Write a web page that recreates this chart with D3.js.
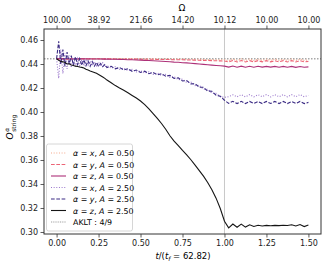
<!DOCTYPE html>
<html>
<head>
<meta charset="utf-8">
<script src="https://cdn.jsdelivr.net/npm/d3@7"></script>
<style>
  body { margin: 0; background: #fff; }
  text { font-family: "DejaVu Sans", sans-serif; }
</style>
</head>
<body>
<div class="grafico"></div>
<script>
// tempo normalizado t/t_f
var tempos = [0, 0.0125, 0.025, 0.0375, 0.05, 0.0625, 0.075, 0.0875, 0.1, 0.1125, 0.125, 0.1375,
  0.15, 0.1625, 0.175, 0.1875, 0.2, 0.2125, 0.225, 0.2375, 0.25, 0.2625, 0.275, 0.2875,
  0.3, 0.325, 0.35, 0.375, 0.4, 0.425, 0.45, 0.475, 0.5, 0.525, 0.55, 0.575, 0.6, 0.625,
  0.65, 0.675, 0.7, 0.725, 0.75, 0.775, 0.8, 0.825, 0.85, 0.875, 0.9, 0.925, 0.95, 0.975,
  1.0, 1.025, 1.05, 1.075, 1.1, 1.125, 1.15, 1.175, 1.2, 1.225, 1.25, 1.275, 1.3, 1.325,
  1.35, 1.375, 1.4, 1.425, 1.45, 1.475, 1.5];

var xA05 = [0.4444, 0.4452, 0.4438, 0.4450, 0.4440, 0.4448, 0.4441, 0.4447, 0.4442, 0.4446, 0.4443, 0.4446,
  0.4443, 0.4445, 0.4443, 0.4445, 0.4444, 0.4445, 0.4443, 0.4445, 0.4444, 0.4445, 0.4444, 0.4445,
  0.4444, 0.4445, 0.4444, 0.4445, 0.4444, 0.4444, 0.4445, 0.4444, 0.4444, 0.4443, 0.4444, 0.4443,
  0.4443, 0.4442, 0.4443, 0.4442, 0.4442, 0.4441, 0.4441, 0.4440, 0.4440, 0.4439, 0.4439, 0.4438,
  0.4437, 0.4437, 0.4436, 0.4436,
  0.4435, 0.4428, 0.4443, 0.4428, 0.4443, 0.4429, 0.4443, 0.4429, 0.4442, 0.4429, 0.4442, 0.4430,
  0.4442, 0.4430, 0.4441, 0.4429, 0.4442, 0.4429, 0.4442, 0.4430, 0.4436];

var yA05 = [0.4444, 0.4438, 0.4452, 0.4440, 0.4449, 0.4441, 0.4447, 0.4442, 0.4446, 0.4443, 0.4445, 0.4443,
  0.4445, 0.4443, 0.4444, 0.4443, 0.4444, 0.4443, 0.4444, 0.4443, 0.4444, 0.4443, 0.4444, 0.4443,
  0.4443, 0.4443, 0.4442, 0.4442, 0.4442, 0.4441, 0.4441, 0.4441, 0.4440, 0.4440, 0.4439, 0.4439,
  0.4438, 0.4438, 0.4437, 0.4437, 0.4436, 0.4435, 0.4435, 0.4434, 0.4433, 0.4432, 0.4431, 0.4430,
  0.4429, 0.4428, 0.4427, 0.4426,
  0.4425, 0.4418, 0.4429, 0.4417, 0.4429, 0.4417, 0.4428, 0.4418, 0.4428, 0.4418, 0.4428, 0.4418,
  0.4427, 0.4418, 0.4428, 0.4417, 0.4428, 0.4417, 0.4428, 0.4418, 0.4422];

var zA05 = [0.4444, 0.4446, 0.4442, 0.4445, 0.4443, 0.4444, 0.4443, 0.4444, 0.4443, 0.4444, 0.4443, 0.4443,
  0.4443, 0.4443, 0.4443, 0.4442, 0.4443, 0.4442, 0.4442, 0.4442, 0.4442, 0.4442, 0.4441, 0.4441,
  0.4441, 0.4440, 0.4439, 0.4438, 0.4437, 0.4436, 0.4435, 0.4433, 0.4432, 0.4430, 0.4429, 0.4427,
  0.4425, 0.4423, 0.4421, 0.4419, 0.4416, 0.4414, 0.4411, 0.4409, 0.4406, 0.4403, 0.4400, 0.4397,
  0.4394, 0.4391, 0.4388, 0.4385,
  0.4382, 0.4374, 0.4383, 0.4373, 0.4382, 0.4373, 0.4381, 0.4373, 0.4381, 0.4374, 0.4380, 0.4374,
  0.4380, 0.4373, 0.4380, 0.4373, 0.4380, 0.4372, 0.4379, 0.4373, 0.4376];

var xA25 = [0.4444, 0.4280, 0.4520, 0.4320, 0.4490, 0.4360, 0.4470, 0.4370, 0.4455, 0.4380, 0.4445, 0.4385,
  0.4435, 0.4385, 0.4430, 0.4390, 0.4425, 0.4385, 0.4420, 0.4385, 0.4415, 0.4380, 0.4410, 0.4378,
  0.4386, 0.4365, 0.4376, 0.4355, 0.4366, 0.4345, 0.4355, 0.4334, 0.4345, 0.4324, 0.4335, 0.4314,
  0.4325, 0.4304, 0.4314, 0.4289, 0.4295, 0.4269, 0.4274, 0.4246, 0.4250, 0.4220, 0.4222, 0.4190,
  0.4190, 0.4157, 0.4156, 0.4128,
  0.4122, 0.4128, 0.4143, 0.4126, 0.4144, 0.4126, 0.4145, 0.4127, 0.4144, 0.4127, 0.4145, 0.4126,
  0.4144, 0.4127, 0.4145, 0.4126, 0.4144, 0.4127, 0.4145, 0.4127, 0.4138];

var yA25 = [0.4444, 0.4590, 0.4400, 0.4520, 0.4380, 0.4500, 0.4400, 0.4470, 0.4390, 0.4460, 0.4395, 0.4445,
  0.4390, 0.4435, 0.4385, 0.4425, 0.4380, 0.4420, 0.4382, 0.4412, 0.4380, 0.4405, 0.4378, 0.4395,
  0.4370, 0.4381, 0.4360, 0.4371, 0.4350, 0.4361, 0.4339, 0.4350, 0.4329, 0.4340, 0.4319, 0.4330,
  0.4309, 0.4320, 0.4298, 0.4305, 0.4279, 0.4285, 0.4258, 0.4262, 0.4234, 0.4236, 0.4206, 0.4206,
  0.4174, 0.4173, 0.4140, 0.4132,
  0.4098, 0.4072, 0.4089, 0.4070, 0.4089, 0.4070, 0.4088, 0.4071, 0.4088, 0.4070, 0.4088, 0.4071,
  0.4088, 0.4070, 0.4088, 0.4070, 0.4087, 0.4071, 0.4088, 0.4070, 0.4080];

var zA25 = [0.4444, 0.4432, 0.4422, 0.4418, 0.4412, 0.4400, 0.4402, 0.4392, 0.4388, 0.4382, 0.4379, 0.4375,
  0.4372, 0.4366, 0.4356, 0.4350, 0.4342, 0.4336, 0.4330, 0.4322, 0.4312, 0.4302, 0.4292, 0.4280,
  0.4266, 0.4244, 0.4220, 0.4200, 0.4182, 0.4160, 0.4138, 0.4116, 0.4092, 0.4062, 0.4026, 0.3987,
  0.3946, 0.3904, 0.3856, 0.3802, 0.3757, 0.3720, 0.3680, 0.3642, 0.3602, 0.3558, 0.3512, 0.3466,
  0.3412, 0.3352, 0.3282, 0.3196,
  0.3090, 0.3035, 0.3066, 0.3040, 0.3066, 0.3041, 0.3060, 0.3046, 0.3056, 0.3050, 0.3055, 0.3052,
  0.3055, 0.3053, 0.3056, 0.3054, 0.3060, 0.3050, 0.3062, 0.3045, 0.3058];

var aklt = 4 / 9;

// eixos
var xTicks = [0, 0.25, 0.5, 0.75, 1.0, 1.25, 1.5];
var yTicks = [0.30, 0.32, 0.34, 0.36, 0.38, 0.40, 0.42, 0.44, 0.46];
var omegaLabels = ["100.00", "38.92", "21.66", "14.20", "10.12", "10.00", "10.00"];

var series = [
  { alpha: "x", A: "0.50", valores: xA05, cor: "#f5a98c", dash: "1,1.65" },
  { alpha: "y", A: "0.50", valores: yA05, cor: "#ec6476", dash: "3.7,1.6" },
  { alpha: "z", A: "0.50", valores: zA05, cor: "#ad3078", dash: null },
  { alpha: "x", A: "2.50", valores: xA25, cor: "#9b78cc", dash: "1,1.65" },
  { alpha: "y", A: "2.50", valores: yA25, cor: "#3b2b84", dash: "3.7,1.6" },
  { alpha: "z", A: "2.50", valores: zA25, cor: "#151515", dash: null }
];

var width = 328, height = 267;
var svg = d3.select(".grafico").append("svg")
  .attr("width", width).attr("height", height);

var x = d3.scaleLinear().domain([-0.075, 1.575]).range([44, 321]);
var y = d3.scaleLinear().domain([0.29833, 0.46917]).range([234, 29]);

// linha vertical em t = t_f
svg.append("line")
  .attr("x1", x(1)).attr("x2", x(1))
  .attr("y1", y.range()[1]).attr("y2", y.range()[0])
  .attr("stroke", "#c8c8c8").attr("stroke-width", 1);

// AKLT
svg.append("line")
  .attr("x1", x.range()[0]).attr("x2", x.range()[1])
  .attr("y1", y(aklt)).attr("y2", y(aklt))
  .attr("stroke", "#a8a8a8").attr("stroke-width", 1.5)
  .attr("stroke-dasharray", "1.5,1.5");

var linha = d3.line()
  .x(function(d, i){ return x(tempos[i]); })
  .y(function(d){ return y(d); });

series.forEach(function(s){
  svg.append("path")
    .attr("d", linha(s.valores))
    .attr("fill", "none")
    .attr("stroke", s.cor)
    .attr("stroke-width", 1.1)
    .attr("stroke-dasharray", s.dash);
});

// eixo inferior
var xAxis = svg.append("g")
  .attr("transform", "translate(0," + y.range()[0] + ")")
  .call(d3.axisBottom(x).tickValues(xTicks).tickFormat(d3.format(".2f")).tickSize(3.5).tickPadding(2.5));

// eixo superior (Omega)
var topAxis = svg.append("g")
  .attr("transform", "translate(0," + y.range()[1] + ")")
  .call(d3.axisTop(x).tickValues(xTicks).tickFormat(function(d, i){ return omegaLabels[i]; }).tickSize(3.5).tickPadding(2.5));

var yAxis = svg.append("g")
  .attr("transform", "translate(" + x.range()[0] + ",0)")
  .call(d3.axisLeft(y).tickValues(yTicks).tickFormat(d3.format(".2f")).tickSize(3.5).tickPadding(2.5));

[xAxis, topAxis, yAxis].forEach(function(g){
  g.select(".domain").remove();
  g.selectAll("text").attr("font-size", 8).attr("fill", "#222")
    .attr("font-family", "DejaVu Sans");
  g.selectAll("line").attr("stroke", "#333").attr("stroke-width", 0.8);
});

// moldura
svg.append("rect")
  .attr("x", x.range()[0]).attr("y", y.range()[1])
  .attr("width", x.range()[1] - x.range()[0])
  .attr("height", y.range()[0] - y.range()[1])
  .attr("fill", "none").attr("stroke", "#333").attr("stroke-width", 1);

// rótulos
svg.append("text").attr("x", 182).attr("y", 11).attr("text-anchor", "middle")
  .attr("font-size", 9).text("Ω");

var xl = svg.append("text").attr("x", 183).attr("y", 259).attr("text-anchor", "middle")
  .attr("font-size", 8.5);
xl.append("tspan").attr("font-style", "italic").text("t");
xl.append("tspan").text("/(");
xl.append("tspan").attr("font-style", "italic").text("t");
xl.append("tspan").attr("font-style", "italic").attr("font-size", 6).attr("dy", 2).text("f");
xl.append("tspan").attr("dy", -2).text(" = 62.82)");

var yl = svg.append("text").attr("transform", "translate(13,127) rotate(-90)")
  .attr("text-anchor", "middle").attr("font-size", 9);
yl.append("tspan").attr("font-style", "italic").text("O");
yl.append("tspan").attr("font-style", "italic").attr("font-size", 6).attr("dy", -4).attr("dx", 0.5).text("α");
yl.append("tspan").attr("font-size", 6).attr("dy", 6.5).attr("dx", -4).text("string");

// legenda
var leg = svg.append("g");
leg.append("rect").attr("x", 46.5).attr("y", 144).attr("width", 86).attr("height", 87)
  .attr("rx", 2).attr("fill", "#fff").attr("fill-opacity", 0.8)
  .attr("stroke", "#cccccc").attr("stroke-width", 0.8);

var itens = series.map(function(s){ return { s: s, aklt: false }; });
itens.push({ aklt: true });

itens.forEach(function(it, i){
  var yy = 153 + i * 11.5;
  leg.append("line").attr("x1", 51).attr("x2", 66).attr("y1", yy).attr("y2", yy)
    .attr("stroke", it.aklt ? "#777" : it.s.cor)
    .attr("stroke-width", it.aklt ? 0.7 : 1.1)
    .attr("stroke-dasharray", it.aklt ? "1,0.8" : it.s.dash);
  var t = leg.append("text").attr("x", 73).attr("y", yy + 3).attr("font-size", 7.9);
  if (it.aklt) {
    t.text("AKLT : 4/9");
  } else {
    t.append("tspan").attr("font-style", "italic").text("α");
    t.append("tspan").text(" = ");
    t.append("tspan").attr("font-style", "italic").text(it.s.alpha);
    t.append("tspan").text(", ");
    t.append("tspan").attr("font-style", "italic").text("A");
    t.append("tspan").text(" = " + it.s.A);
  }
});
</script>
</body>
</html>
